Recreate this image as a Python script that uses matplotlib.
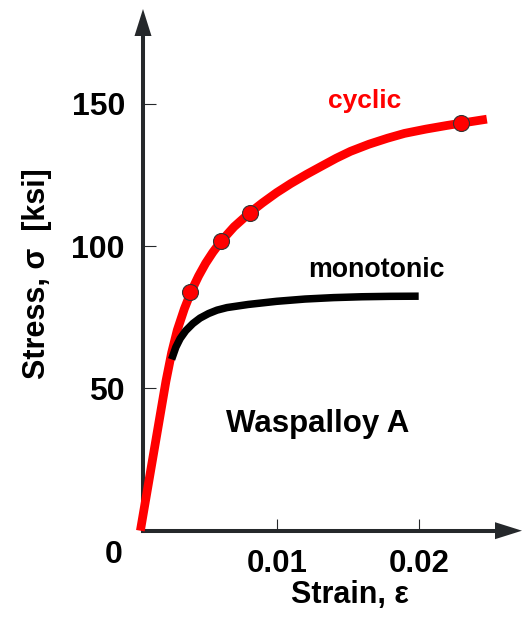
import matplotlib
matplotlib.use('Agg')
import matplotlib.pyplot as plt
from matplotlib.patches import Polygon
from matplotlib.lines import Line2D

plt.rcParams['font.family'] = ['Liberation Sans', 'DejaVu Sans']
plt.rcParams['font.weight'] = 'bold'

# ---- data ----
cyclic_strain = [0.0004, 0.0010, 0.0016, 0.0022, 0.0026, 0.0030, 0.0035, 0.0040, 0.0045,
                 0.0050, 0.0055, 0.0061, 0.0070, 0.0081, 0.0090, 0.0100, 0.0110, 0.0121,
                 0.0132, 0.0142, 0.0152, 0.0165, 0.0178, 0.0190, 0.0205, 0.0220, 0.0230,
                 0.0248]
cyclic_stress = [0.0, 17.5, 35.0, 52.5, 62.5, 70.5, 78.0, 84.3, 89.5,
                 94.0, 97.8, 101.8, 106.8, 111.7, 115.2, 118.8, 122.0, 125.2,
                 128.2, 130.9, 133.3, 135.8, 137.9, 139.6, 141.1, 142.4, 143.2,
                 144.6]

cyclic_pts_strain = [0.0039, 0.0061, 0.0081, 0.0230]
cyclic_pts_stress = [83.8, 101.8, 111.7, 143.2]

mono_strain = [0.0026, 0.0029, 0.0032, 0.0036, 0.0041, 0.0046, 0.0052, 0.0058, 0.0065,
               0.0080, 0.0100, 0.0120, 0.0140, 0.0160, 0.0180, 0.0200]
mono_stress = [60.2, 64.5, 67.5, 70.3, 72.8, 74.7, 76.3, 77.5, 78.4,
               79.5, 80.6, 81.4, 81.9, 82.2, 82.35, 82.4]

x_ticks = [0.01, 0.02]
x_tick_labels = ['0.01', '0.02']
y_ticks = [50, 100, 150]
y_tick_labels = ['50', '100', '150']

W, H = 522, 623
fig = plt.figure(figsize=(W / 100, H / 100), dpi=100)

# axes geometry in pixels
ax_l, ax_r, ax_top, ax_bot = 143.0, 522.0, 9.0, 530.7
ax = fig.add_axes([ax_l / W, (H - ax_bot) / H, (ax_r - ax_l) / W, (ax_bot - ax_top) / H])
ax_w = ax_r - ax_l
ax_h = ax_bot - ax_top

ax.set_xlim(0.000585, 0.000585 + ax_w / 14200.0)
ax.set_ylim(0, ax_h * 50.0 / 142.3)

for s in ax.spines.values():
    s.set_visible(False)

axis_col = '#25282b'
head_len = 27.0
head_half = 8.5
# custom spines with arrow heads
ax.add_line(Line2D([0, 0], [0, 1 - head_len / ax_h], transform=ax.transAxes,
                   color=axis_col, lw=2.9, solid_capstyle='projecting', clip_on=False, zorder=1))
ax.add_line(Line2D([0, 1 - head_len / ax_w], [0, 0], transform=ax.transAxes,
                   color=axis_col, lw=2.9, solid_capstyle='projecting', clip_on=False, zorder=1))
ax.add_patch(Polygon([(-head_half / ax_w, 1 - head_len / ax_h), (head_half / ax_w, 1 - head_len / ax_h), (0, 1)],
                     closed=True, transform=ax.transAxes, facecolor=axis_col, edgecolor='none',
                     clip_on=False, zorder=1))
ax.add_patch(Polygon([(1 - head_len / ax_w, -head_half / ax_h), (1 - head_len / ax_w, head_half / ax_h), (1, 0)],
                     closed=True, transform=ax.transAxes, facecolor=axis_col, edgecolor='none',
                     clip_on=False, zorder=1))

ax.set_xticks(x_ticks)
ax.set_xticklabels(x_tick_labels, fontsize=22.5, fontweight='bold')
ax.set_yticks(y_ticks)
ax.set_yticklabels(y_tick_labels, fontsize=23, fontweight='bold')
ax.tick_params(axis='both', direction='in', length=9, width=0.8, color=axis_col)
ax.tick_params(axis='y', pad=13)
ax.tick_params(axis='x', pad=13.5)

# curves
ax.plot(cyclic_strain, cyclic_stress, color='#ff0000', lw=6.3, solid_capstyle='butt',
        solid_joinstyle='round', clip_on=False, zorder=3)
ax.plot(mono_strain, mono_stress, color='#000000', lw=5.4, solid_capstyle='butt',
        solid_joinstyle='round', clip_on=False, zorder=3)
ax.plot(cyclic_pts_strain, cyclic_pts_stress, linestyle='none', marker='o', markersize=11.5,
        markerfacecolor='#ff0000', markeredgecolor='#333333', markeredgewidth=0.8,
        clip_on=False, zorder=4)

def ft(px, py, s, **kw):
    fig.text(px / W, 1 - py / H, s, ha='center', va='center', fontweight='bold', **kw)

ft(114, 555, '0', fontsize=23)
ft(350, 595, 'Strain, ε', fontsize=22)
ft(37, 274, 'Stress, σ  [ksi]', fontsize=22, rotation=90)
ft(364.5, 101, 'cyclic', fontsize=19, color='#ff0000')
ft(376.7, 270, 'monotonic', fontsize=19.3, color='#000000')
ft(318, 424, 'Waspalloy A', fontsize=22.5, color='#000000')

fig.savefig('out.png', dpi=100)
